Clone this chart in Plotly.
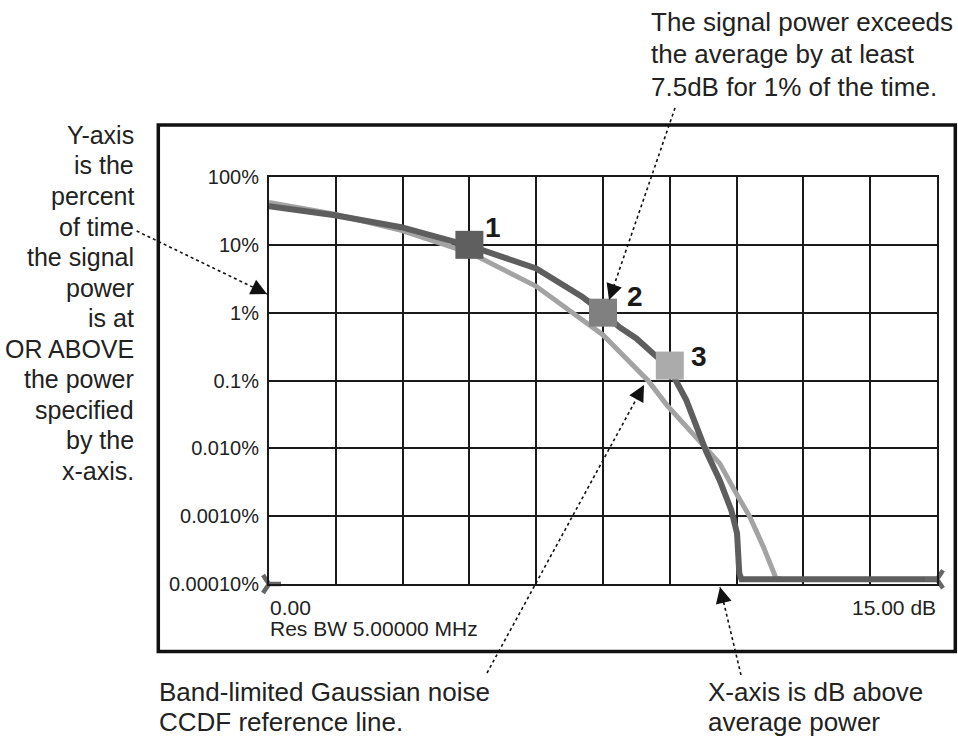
import math
import plotly.graph_objects as go

# ---------------- data ----------------
signal_db = [0.0, 1.48, 2.97, 4.54, 6.0, 6.75, 7.04, 7.5, 7.87, 8.25, 8.55, 8.71, 9.0, 9.11,
             9.37, 9.6, 9.82, 10.12, 10.38, 10.51, 10.56, 10.61, 15.0]
signal_pct = [37, 27.3, 18.2, 9.5, 4.5, 2.3, 1.7, 1.0, 0.61, 0.417, 0.28, 0.223, 0.166, 0.107,
              0.0514, 0.0207, 0.0089, 0.0034, 0.00123, 0.00056, 0.000144, 0.000117, 0.000117]

ref_db = [0.0, 0.75, 1.48, 2.97, 4.54, 6.0, 6.75, 7.5, 8.32, 8.51, 8.93, 9.38, 9.79, 10.12,
          10.49, 10.79, 11.1, 11.3, 11.39, 11.5]
ref_pct = [42, 35, 28.2, 16.4, 7.5, 2.45, 1.05, 0.47, 0.133, 0.1, 0.0437, 0.0206, 0.01, 0.006,
           0.00217, 0.001, 0.000355, 0.000162, 0.00012, 0.00012]

marker_db = [4.5, 7.5, 9.0]
marker_pct = [10.0, 1.0, 0.166]
marker_labels = ["1", "2", "3"]
marker_colors = ["#5f5f5f", "#808080", "#ababab"]

end_db = [0.0, 15.0]
end_pct = [0.0001, 0.000117]

y_tick_vals = [100, 10, 1, 0.1, 0.01, 0.001, 0.0001]
y_tick_text = ["100%", "10%", "1%", "0.1%", "0.010%", "0.0010%", "0.00010%"]

x_start_label = "0.00"
x_end_label = "15.00 dB"
rbw_label = "Res BW 5.00000 MHz"

left_note = ["Y-axis", "is the", "percent", "of time", "the signal", "power", "is at",
             "OR ABOVE", "the power", "specified", "by the", "x-axis."]
top_note = ["The signal power exceeds", "the average by at least", "7.5dB for 1% of the time."]
ref_note = ["Band-limited Gaussian noise", "CCDF reference line."]
xaxis_note = ["X-axis is dB above", "average power"]

# ---------------- layout helpers ----------------
W, H = 958, 740
L, R, T, B = 269, 21, 177, 156
PW, PH = W - L - R, H - T - B
FONT = "Liberation Sans, Arial, sans-serif"
TXT = "#222222"


def X(px):
    return (px - L) / PW


def Y(py):
    return (H - B - py) / PH


fig = go.Figure()

fig.add_trace(go.Scatter(x=ref_db, y=ref_pct, mode="lines",
                         line=dict(color="#a3a3a3", width=5), hoverinfo="skip"))
fig.add_trace(go.Scatter(x=signal_db, y=signal_pct, mode="lines",
                         line=dict(color="#5e5e5e", width=6), hoverinfo="skip"))
fig.add_trace(go.Scatter(x=marker_db, y=marker_pct, mode="markers",
                         marker=dict(symbol="square", size=28, color=marker_colors,
                                     line=dict(width=0)), hoverinfo="skip"))
fig.add_trace(go.Scatter(x=end_db, y=end_pct, mode="markers", cliponaxis=False,
                         marker=dict(symbol=["y-right", "y-left"], size=15, color="#666666",
                                     line=dict(width=4.5, color="#666666")), hoverinfo="skip"))

axis_common = dict(showgrid=True, gridcolor="#1a1a1a", gridwidth=2, showline=True,
                   linecolor="#1a1a1a", linewidth=2, mirror=True, zeroline=False, ticks="")
fig.update_xaxes(range=[0, 15], tick0=0, dtick=1.5, showticklabels=False, **axis_common)
fig.update_yaxes(type="log", range=[-4, 2], tickvals=y_tick_vals, ticktext=y_tick_text,
                 tickfont=dict(family=FONT, size=20, color=TXT), ticklabelstandoff=4,
                 **axis_common)

fig.update_layout(width=W, height=H, margin=dict(l=L, r=R, t=T, b=B, pad=0),
                  paper_bgcolor="white", plot_bgcolor="white", showlegend=False)

ann = []


def text(s, px, py, size, xanchor, bold=False):
    ann.append(dict(x=X(px), y=Y(py), xref="paper", yref="paper", text=s, showarrow=False,
                    xanchor=xanchor, yanchor="middle",
                    font=dict(family=FONT, size=size, color=TXT,
                              weight="bold" if bold else "normal")))


# marker number labels (data coords)
for xv, yv, lab, dx, dy in zip(marker_db, marker_pct, marker_labels, [24, 32, 29], [17, 16, 9]):
    ann.append(dict(x=xv, y=math.log10(yv), xref="x", yref="y", text=lab, showarrow=False,
                    xshift=dx, yshift=dy, xanchor="center", yanchor="middle",
                    font=dict(family=FONT, size=28, color="#1a1a1a", weight="bold")))

# axis end labels
text(x_start_label, 268, 607, 21, "left")
text(rbw_label, 268, 628, 21, "left")
text(x_end_label, 938, 607, 21, "right")

# notes
for i, s in enumerate(left_note):
    text(s, 136, 135 + 30.5 * i, 25, "right")
for i, s in enumerate(top_note):
    text(s, 649, 22 + 32.5 * i, 26, "left")
for i, s in enumerate(ref_note):
    text(s, 157, 692 + 30 * i, 26, "left")
for i, s in enumerate(xaxis_note):
    text(s, 706, 692 + 30 * i, 26, "left")

# dotted pointer lines with arrowheads (pixel positions converted to paper)
arrows = [((136.7, 231), (267, 294)),
          ((675, 108), (609, 300)),
          ((487, 673), (644, 385)),
          ((741, 675), (720, 587))]
shapes = []
for (x0, y0), (x1, y1) in arrows:
    shapes.append(dict(type="line", xref="paper", yref="paper", x0=X(x0), y0=Y(y0),
                       x1=X(x1), y1=Y(y1), line=dict(color="#111111", width=1.6, dash="dot")))
    d = math.hypot(x1 - x0, y1 - y0)
    ux, uy = (x1 - x0) / d, (y1 - y0) / d
    ann.append(dict(x=X(x1), y=Y(y1), xref="paper", yref="paper", text="", showarrow=True,
                    ax=-ux * 16, ay=-uy * 16, arrowhead=2, arrowsize=1.6, arrowwidth=2,
                    arrowcolor="#111111", standoff=0))

# outer frame
shapes.append(dict(type="rect", xref="paper", yref="paper", x0=X(158.3), x1=X(955.3),
                   y0=Y(651.5), y1=Y(125), line=dict(color="#111111", width=3.5),
                   fillcolor="rgba(0,0,0,0)", layer="below"))

fig.update_layout(annotations=ann, shapes=shapes)
fig.write_html("out.html", config={"displayModeBar": False},
               post_script="document.body.style.margin='0px';document.body.style.overflow='hidden';")
